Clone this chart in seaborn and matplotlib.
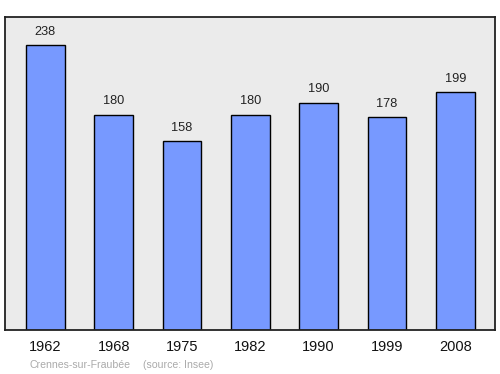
import matplotlib
matplotlib.use("Agg")
import matplotlib.pyplot as plt
import seaborn as sns
import pandas as pd

years = ["1962", "1968", "1975", "1982", "1990", "1999", "2008"]
population = [238, 180, 158, 180, 190, 178, 199]
commune = "Crennes-sur-Fraubée"
source = "(source: Insee)"

sns.set_theme(style="white")
plt.rcParams['font.family'] = ['Liberation Sans', 'DejaVu Sans']

df = pd.DataFrame({"year": years, "pop": population})

fig = plt.figure(figsize=(5, 3.74), dpi=100)
ax = fig.add_axes([5/500, 1-330/374, 490/500, 313/374])
ax.set_facecolor("#ebebeb")

sns.barplot(data=df, x="year", y="pop", ax=ax, color="#7799ff", width=0.57,
            edgecolor="black", linewidth=1.0, saturation=1)

for i, v in enumerate(population):
    ax.text(i, v + 6, str(v), ha="center", va="bottom", fontsize=9.2, color="#222222")

ax.set_xlim(-0.59, 6.58)
ax.set_ylim(0, 261.5)
ax.set_yticks([])
ax.set_xlabel("")
ax.set_ylabel("")
ax.tick_params(axis="x", length=0, labelsize=10.5, pad=7.5, colors="#111111")
for s in ax.spines.values():
    s.set_color("#222222")
    s.set_linewidth(1.3)

fig.text(30/500, 1-365/374, commune, fontsize=7.6, color="#aaaaaa", va="center", ha="left")
fig.text(143/500, 1-365/374, source, fontsize=7.6, color="#aaaaaa", va="center", ha="left")

fig.savefig("out.png", dpi=100, facecolor="white")
